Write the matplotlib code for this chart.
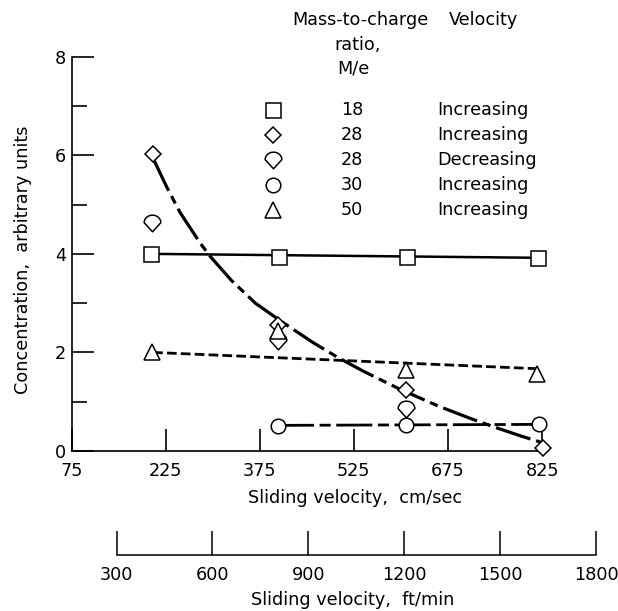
import matplotlib
matplotlib.use("Agg")
import matplotlib.pyplot as plt
import numpy as np
from matplotlib.path import Path
from matplotlib.lines import Line2D

plt.rcParams["font.family"] = ["DejaVu Sans"]
plt.rcParams["lines.scale_dashes"] = False

# data (x in cm/sec, y in arbitrary units)
sq_x = [201, 406, 609, 819]
sq_y = [4.0, 3.94, 3.94, 3.92]
dia_x = [205, 404, 608, 827]
dia_y = [6.02, 2.56, 1.24, 0.07]
dec_x = [203, 404, 608]
dec_y = [4.63, 2.24, 0.85]
circ_x = [404, 608, 820]
circ_y = [0.50, 0.53, 0.54]
tri_x = [203, 404, 608, 817]
tri_y = [2.01, 2.44, 1.64, 1.56]

# drawn fit lines
sq_fit_x = [201, 819]
sq_fit_y = [4.0, 3.92]
tri_fit_x = [205, 817]
tri_fit_y = [2.0, 1.67]
circ_fit_x = [404, 820]
circ_fit_y = [0.52, 0.54]
curve_x = [205, 227, 248, 280, 296, 330, 368, 407, 460, 498, 540, 599, 662, 715, 755, 790, 825]
curve_y = [5.94, 5.35, 4.84, 4.22, 3.95, 3.46, 3.0, 2.65, 2.20, 1.91, 1.62, 1.25, 0.90, 0.64, 0.46, 0.31, 0.17]

cm_ticks = [75, 225, 375, 525, 675, 825]
ft_ticks = [300, 600, 900, 1200, 1500, 1800]

leg_me = ["18", "28", "28", "30", "50"]
leg_vel = ["Increasing", "Increasing", "Decreasing", "Increasing", "Increasing"]

W, H = 618, 611
FS = 12.7


def fx(px):
    return px / W


def fy(py):
    return 1 - py / H


# rounded-top diamond for the "decreasing" series
t = np.radians(np.linspace(0, 180, 30))
verts = [(0.5 * np.cos(a), 0.05 + 0.45 * np.sin(a)) for a in t] + [(0, -0.5), (0.5, 0.05)]
codes = [Path.MOVETO] + [Path.LINETO] * (len(verts) - 2) + [Path.CLOSEPOLY]
dec_marker = Path(verts, codes)

styles = [
    dict(marker="s", ms=10.8),
    dict(marker="D", ms=8),
    dict(marker=dec_marker, ms=12),
    dict(marker="o", ms=10.5),
    dict(marker="^", ms=11),
]
mk = dict(mfc="white", mec="black", mew=1.1, ls="none", zorder=5, clip_on=False)

fig = plt.figure(figsize=(6.18, 6.11), dpi=100)
ax = fig.add_axes([fx(71.5), fy(451), (548.3 - 71.5) / W, (451 - 56.7) / H])
ax.set_xlim(75, 835)
ax.set_ylim(0, 8)
for s in ["top", "right"]:
    ax.spines[s].set_visible(False)
for s in ["left", "bottom"]:
    ax.spines[s].set_linewidth(1.2)

ax.set_xticks(cm_ticks)
ax.set_xticklabels([str(v) for v in cm_ticks])
ax.tick_params(axis="x", direction="in", length=15.5, width=1.2, pad=8, labelsize=FS)
ax.set_yticks([0, 2, 4, 6, 8])
ax.set_yticks([1, 3, 5, 7], minor=True)
ax.tick_params(axis="y", which="major", direction="in", length=16, width=1.2, pad=4, labelsize=FS)
ax.tick_params(axis="y", which="minor", direction="in", length=11, width=1.2)

# fit lines
ax.plot(sq_fit_x, sq_fit_y, color="black", lw=1.8, solid_capstyle="butt")
ax.plot(tri_fit_x, tri_fit_y, color="black", lw=2.0, ls=(0, (7, 3)), dash_capstyle="butt")
ax.plot(circ_fit_x, circ_fit_y, color="black", lw=2.0, ls=(0, (26, 4, 8, 4)), dash_capstyle="butt")
ax.plot(curve_x, curve_y, color="black", lw=2.3, ls=(0, (26, 4.3, 6, 4.3)),
        dash_capstyle="butt", solid_joinstyle="round")

# points
ax.plot(sq_x, sq_y, **styles[0], **mk)
ax.plot(dia_x, dia_y, **styles[1], **mk)
ax.plot(dec_x, dec_y, **styles[2], **mk)
ax.plot(circ_x, circ_y, **styles[3], **mk)
ax.plot(tri_x, tri_y, **styles[4], **mk)

# ft/min scale
ax2 = fig.add_axes([fx(116.5), fy(555), (596 - 116.5) / W, 30 / H])
ax2.patch.set_visible(False)
ax2.set_xlim(300, 1800)
ax2.set_xticks(ft_ticks)
ax2.set_xticklabels([str(v) for v in ft_ticks])
ax2.set_yticks([])
for s in ["top", "right", "left"]:
    ax2.spines[s].set_visible(False)
ax2.spines["bottom"].set_linewidth(1.1)
ax2.tick_params(axis="x", direction="in", length=17, width=1.1, pad=8, labelsize=FS)

# axis titles
fig.text(fx(355), fy(498), "Sliding velocity,  cm/sec", ha="center", va="center", fontsize=FS)
fig.text(fx(353), fy(600), "Sliding velocity,  ft/min", ha="center", va="center", fontsize=FS)
fig.text(fx(23.5), fy(260), "Concentration,  arbitrary units", ha="center", va="center",
         rotation=90, fontsize=FS)

# key
fig.text(fx(360), fy(19.6), "Mass-to-charge", ha="center", va="center", fontsize=FS)
fig.text(fx(357.6), fy(45), "ratio,", ha="center", va="center", fontsize=FS)
fig.text(fx(353), fy(68.6), "M/e", ha="center", va="center", fontsize=FS)
fig.text(fx(483), fy(19.6), "Velocity", ha="center", va="center", fontsize=FS)
row_y = [110, 135, 160, 185, 210]
for i, (me, vel) in enumerate(zip(leg_me, leg_vel)):
    yy = row_y[i]
    fig.add_artist(Line2D([fx(273.3)], [fy(yy)], transform=fig.transFigure, **styles[i],
                          mfc="white", mec="black", mew=1.1, ls="none"))
    fig.text(fx(352), fy(yy), me, ha="center", va="center", fontsize=FS)
    fig.text(fx(437.3), fy(yy), vel, ha="left", va="center", fontsize=FS)

fig.savefig("out.png", dpi=100)
